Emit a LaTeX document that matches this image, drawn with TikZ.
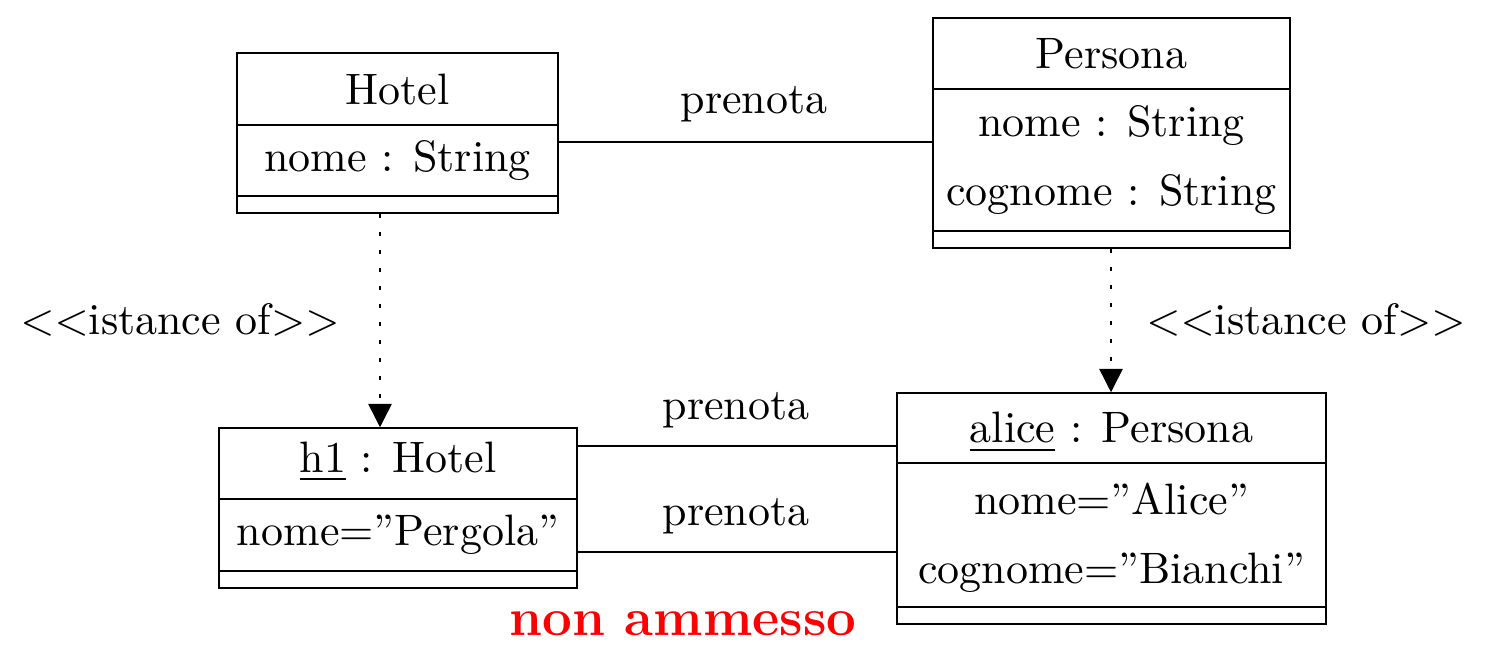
\documentclass[tikz,border=0pt]{standalone}
\usetikzlibrary{arrows.meta}
\newdimen\pxu \pxu=0.2273pt
\begin{document}
\begin{tikzpicture}[x=0.2273pt,y=-0.2273pt, line width=0.34pt,
  umlbox/.style={draw, rectangle, inner sep=0pt, fill=none},
  txt/.style={anchor=base, inner sep=0pt, font=\normalsize},
  assoc/.style={draw},
  depend/.style={draw, dash pattern=on 0.9pt off 3.2pt, -{Triangle[width=5.3pt,length=5.3pt]}},
  warn/.style={anchor=base, inner sep=0pt, font=\large\bfseries, text=red}]
\useasboundingbox (0,0) rectangle (1502,672);
% boxes
\node[umlbox, minimum width=321*\pxu, minimum height=160*\pxu] (hotel) at (397.5,133) {};
\node[umlbox, minimum width=357*\pxu, minimum height=230*\pxu] (persona) at (1111.5,133) {};
\node[umlbox, minimum width=358*\pxu, minimum height=160*\pxu] (h1) at (398,508) {};
\node[umlbox, minimum width=429*\pxu, minimum height=231*\pxu] (alice) at (1111.5,508.5) {};
% dividers
\draw (hotel.west |- 0,125) -- (hotel.east |- 0,125);
\draw (hotel.west |- 0,196) -- (hotel.east |- 0,196);
\draw (persona.west |- 0,89) -- (persona.east |- 0,89);
\draw (persona.west |- 0,231) -- (persona.east |- 0,231);
\draw (h1.west |- 0,499) -- (h1.east |- 0,499);
\draw (h1.west |- 0,571) -- (h1.east |- 0,571);
\draw (alice.west |- 0,463) -- (alice.east |- 0,463);
\draw (alice.west |- 0,607) -- (alice.east |- 0,607);
% texts
\node[txt] (tHotel) at (397.5,105) {Hotel};
\node[txt] (aHotel) at (397.5,171.5) {nome : String};
\node[txt] (tPersona) at (1111.5,69) {Persona};
\node[txt] (aPersona1) at (1111.5,137) {nome : String};
\node[txt] (aPersona2) at (1111.5,206) {cognome : String};
\node[txt] (tH1) at (398,473) {\underline{h1} : Hotel};
\node[txt] (aH1) at (398,545.5) {nome=”Pergola”};
\node[txt] (tAlice) at (1111.5,443) {\underline{alice} : Persona};
\node[txt] (aAlice1) at (1111.5,515) {nome=”Alice”};
\node[txt] (aAlice2) at (1111.5,583) {cognome=”Bianchi”};
% connectors
\coordinate (ya) at (0,142);
\coordinate (yb) at (0,446);
\coordinate (yc) at (0,552);
\coordinate (xh) at (380,0);
\coordinate (xp) at (1111,0);
\draw[assoc] (hotel.east |- ya) -- (persona.west |- ya);
\draw[assoc] (h1.east |- yb) -- (alice.west |- yb);
\draw[assoc] (h1.east |- yc) -- (alice.west |- yc);
\draw[depend] (xh |- hotel.south) -- (xh |- h1.north);
\draw[depend] (xp |- persona.south) -- (xp |- alice.north);
% labels
\node[txt] (lab1) at (754,114) {prenota};
\node[txt] (lab2) at (736,420) {prenota};
\node[txt] (lab3) at (736,525) {prenota};
\node[txt] (inst1) at (180,335) {$<<$istance of$>>$};
\node[txt] (inst2) at (1306,335) {$<<$istance of$>>$};
\node[warn] (warning) at (683,635) {non ammesso};
\end{tikzpicture}
\end{document}
